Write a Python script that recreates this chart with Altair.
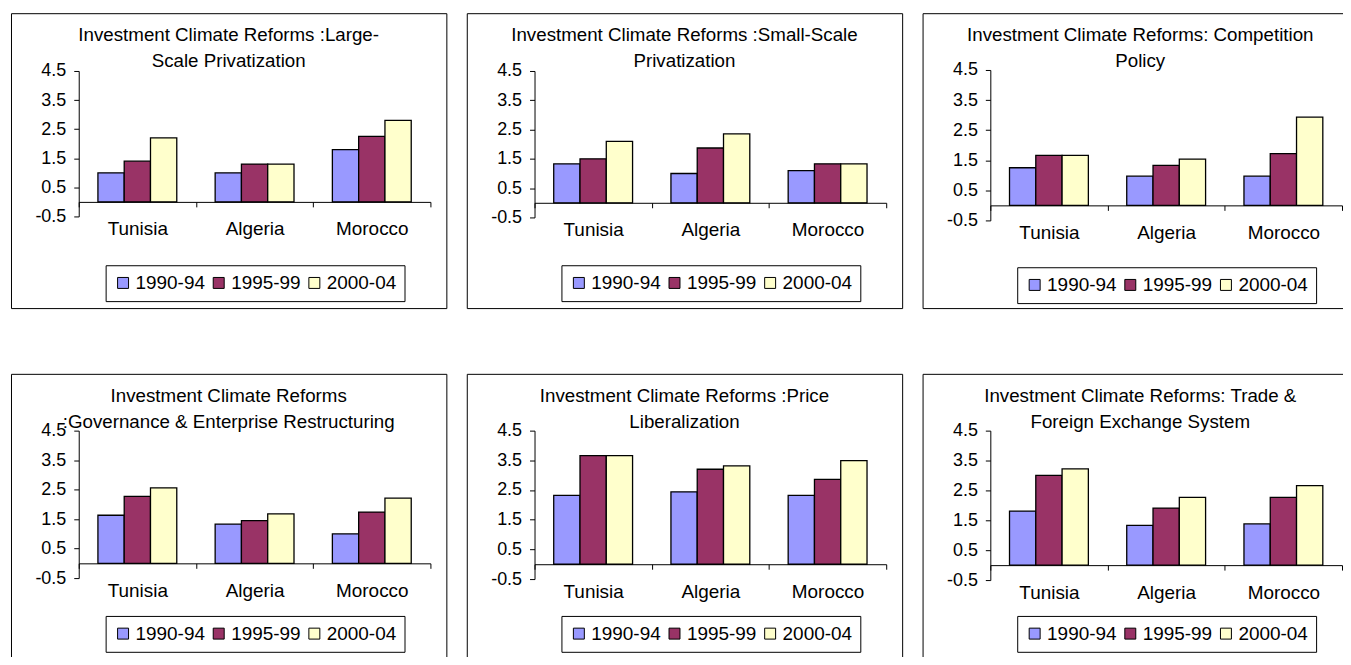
import altair as alt
import pandas as pd

# ---------------- data ----------------
countries = ["Tunisia", "Algeria", "Morocco"]
periods = ["1990-94", "1995-99", "2000-04"]
period_colors = ["#9999FF", "#993366", "#FFFFCC"]
y_ticks = [-0.5, 0.5, 1.5, 2.5, 3.5, 4.5]

titles = [
    ["Investment Climate Reforms :Large-", "Scale Privatization"],
    ["Investment Climate Reforms :Small-Scale", "Privatization"],
    ["Investment Climate Reforms: Competition", "Policy"],
    ["Investment Climate Reforms", ":Governance & Enterprise Restructuring"],
    ["Investment Climate Reforms :Price", "Liberalization"],
    ["Investment Climate Reforms: Trade &", "Foreign Exchange System"],
]

# values per country (Tunisia, Algeria, Morocco), each [1990-94, 1995-99, 2000-04]
large_scale = [[1.0, 1.4, 2.2], [1.0, 1.3, 1.3], [1.8, 2.25, 2.8]]
small_scale = [[1.33, 1.5, 2.1], [1.0, 1.87, 2.35], [1.1, 1.33, 1.33]]
competition = [[1.25, 1.66, 1.66], [0.97, 1.33, 1.54], [0.97, 1.72, 2.93]]
governance = [[1.63, 2.27, 2.56], [1.33, 1.45, 1.68], [1.0, 1.74, 2.21]]
price = [[2.32, 3.66, 3.66], [2.44, 3.2, 3.31], [2.32, 2.86, 3.49]]
trade = [[1.81, 3.0, 3.22], [1.33, 1.91, 2.27], [1.38, 2.27, 2.66]]

panel_values = [large_scale, small_scale, competition, governance, price, trade]

# ---------------- style / layout ----------------
FONT = "Liberation Sans"
W, H = 437, 296
PLOT_X = [68, 421]
# pixel range of the value axis (-0.5 -> 4.5) inside each panel box
PLOT_Y = [[204, 58], [205, 58], [208, 57], [205, 57], [206, 57], [207, 57]]
LEGEND_Y = [253, 253, 255, 243, 243, 243]


def panel(title_lines, vals, y_range, legend_y):
    rows = []
    for c, cv in zip(countries, vals):
        for p, v in zip(periods, cv):
            rows.append({"country": c, "period": p, "value": v})
    df = pd.DataFrame(rows)
    zero_y = y_range[0] - (y_range[0] - y_range[1]) / 10.0
    return (
        alt.Chart(
            df,
            title=alt.TitleParams(
                text=title_lines,
                font=FONT,
                fontSize=18.8,
                fontWeight="normal",
                color="black",
                anchor="middle",
                frame="group",
                baseline="top",
                lineHeight=26,
                offset=-58,
            ),
        )
        .mark_bar(stroke="black", strokeWidth=1.3)
        .encode(
            x=alt.X(
                "country:N",
                sort=countries,
                scale=alt.Scale(range=PLOT_X, paddingInner=0, paddingOuter=0),
                axis=alt.Axis(
                    title=None,
                    orient="bottom",
                    offset=zero_y - H,
                    grid=False,
                    domainColor="black",
                    tickColor="black",
                    tickSize=5,
                    tickBand="extent",
                    labelAngle=0,
                    labelFont=FONT,
                    labelFontSize=19,
                    labelColor="black",
                    labelPadding=13,
                    zindex=1,
                ),
            ),
            xOffset=alt.XOffset(
                "period:N",
                sort=periods,
                scale=alt.Scale(paddingInner=0, paddingOuter=0.73),
            ),
            y=alt.Y(
                "value:Q",
                scale=alt.Scale(domain=[-0.5, 4.5], range=y_range, nice=False),
                axis=alt.Axis(
                    title=None,
                    values=y_ticks,
                    labelExpr="(datum.value < 0 ? '-' : '') + format(abs(datum.value), '.1f')",
                    offset=-PLOT_X[0],
                    grid=False,
                    domainColor="black",
                    tickColor="black",
                    tickSize=5,
                    labelFont=FONT,
                    labelFontSize=18,
                    labelColor="black",
                    labelPadding=8,
                ),
            ),
            color=alt.Color(
                "period:N",
                sort=periods,
                scale=alt.Scale(domain=periods, range=period_colors),
                legend=alt.Legend(
                    title=None,
                    orient="none",
                    legendX=95,
                    legendY=legend_y,
                    direction="horizontal",
                    strokeColor="black",
                    fillColor="white",
                    padding=8,
                    symbolType="square",
                    symbolSize=121,
                    symbolStrokeColor="black",
                    symbolStrokeWidth=1,
                    labelFont=FONT,
                    labelFontSize=19,
                    labelColor="black",
                    labelOffset=3,
                    columnPadding=4,
                ),
            ),
        )
        .properties(width=W, height=H)
    )


panels = [
    panel(t, v, yr, ly)
    for t, v, yr, ly in zip(titles, panel_values, PLOT_Y, LEGEND_Y)
]

row1 = alt.hconcat(*panels[:3], spacing=18.5).resolve_scale(color="independent").resolve_legend(color="independent")
row2 = alt.hconcat(*panels[3:], spacing=18.5).resolve_scale(color="independent").resolve_legend(color="independent")

chart = (
    alt.vconcat(row1, row2, spacing=64)
    .resolve_scale(color="independent")
    .resolve_legend(color="independent")
    .properties(
        padding={"left": 2, "top": 3, "right": -16, "bottom": -14},
        background="white",
    )
    .configure_view(stroke="black", strokeWidth=1)
)

chart.save("out.html", embed_options={"renderer": "svg", "actions": False})
